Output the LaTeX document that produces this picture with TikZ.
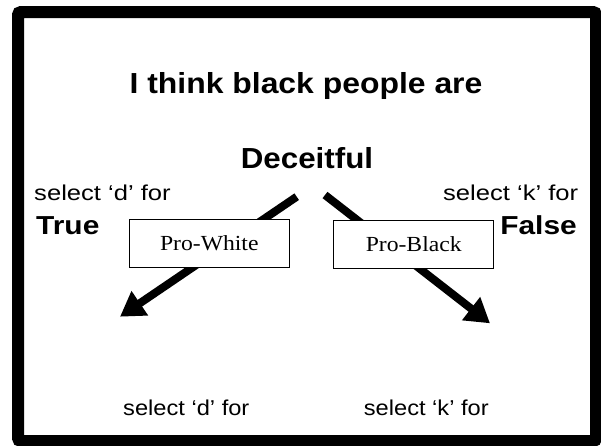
\documentclass[tikz,border=0pt]{standalone}
\usepackage{fontspec}
\setmainfont{Liberation Sans}
\newfontfamily\timesfont{Liberation Serif}
\usetikzlibrary{arrows.meta}
\tikzset{
  frame/.style={line width=12pt, rounded corners=3pt},
  titletext/.style={inner sep=0pt, xscale=1.1, font=\fontsize{29}{33}\selectfont\bfseries},
  dectext/.style={inner sep=0pt, xscale=1.08, font=\fontsize{29}{33}\selectfont\bfseries},
  seltext/.style={inner sep=0pt, xscale=1.19, font=\fontsize{21.5}{25}\selectfont},
  bottext/.style={inner sep=0pt, xscale=1.1, font=\fontsize{21.5}{25}\selectfont},
  tftext/.style={inner sep=0pt, xscale=1.15, font=\fontsize{26}{30}\selectfont\bfseries},
  probox/.style={draw, line width=1.3pt, fill=white, minimum width=160pt, minimum height=48pt, inner sep=0pt, font=\timesfont\fontsize{21.5}{24}\selectfont},
  bigarrow/.style={line width=8pt, -{Triangle[length=24pt, width=28pt]}}
}
\begin{document}
\begin{tikzpicture}[x=1pt, y=-1pt]
\useasboundingbox (0,0) rectangle (601,445);
\fill[white] (0,0) rectangle (601,445);
\draw[frame] (18,12) rectangle (596,441);

\node[titletext, anchor=base] (title) at (306,93) {I think black people are};
\node[dectext, anchor=base] (dec) at (307,168) {Deceitful};

\node[seltext, anchor=base west] (seld) at (34,200) {select ‘d’ for};
\node[tftext, anchor=base west] (true) at (36,234) {True};
\node[seltext, anchor=base east] (selk) at (578.5,200) {select ‘k’ for};
\node[tftext, anchor=base east] (false) at (577,234) {False};

\coordinate (ls) at (296.7,196.7);
\coordinate (le) at (120,316.7);
\coordinate (rs) at (325,195);
\coordinate (re) at (490,323.3);
\draw[bigarrow] (ls) -- (le);
\draw[bigarrow] (rs) -- (re);

\node[probox] (pw) at (209.3,243.2) {\scalebox{1.1}[1]{Pro-White}};
\node[probox] (pb) at (413.7,244.2) {\scalebox{1.1}[1]{Pro-Black}};

\node[bottext, anchor=base] (botd) at (186.3,415) {select ‘d’ for};
\node[bottext, anchor=base] (botk) at (426.3,415) {select ‘k’ for};
\end{tikzpicture}
\end{document}
